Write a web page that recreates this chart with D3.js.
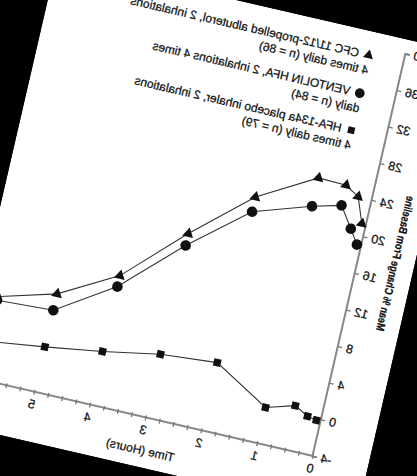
<!DOCTYPE html>
<html>
<head>
<meta charset="utf-8">
<script src="https://cdn.jsdelivr.net/npm/d3@7"></script>
<style>
  html, body { margin: 0; padding: 0; background: #000; }
  svg { display: block; }
  text { font-family: "Liberation Sans", Arial, sans-serif; fill: #111; stroke: #111; stroke-width: 0.25px; }
</style>
</head>
<body>
<div id="chart"></div>
<script>
// time points (hours) and mean % change from baseline
var times    = [0.083, 0.25, 0.5, 1, 2, 3, 4, 5, 6];
var cfc      = [21.3, 24.0, 24.9, 25.0, 21.5, 16.1, 10.1, 6.7, 5.0];
var ventolin = [19.0, 20.5, 22.7, 21.9, 19.9, 14.8, 8.9, 4.9, 4.6];
var placebo  = [-0.2, 0.0, 0.8, -0.1, 3.4, 2.9, 1.8, 0.9, 0.1];

var xTicks = [0, 1, 2, 3, 4, 5, 6];
var yTicks = [-4, 0, 4, 8, 12, 16, 20, 24, 28, 32, 36, 40];

var legendRows = [
  { sym: "triangle", lines: ["CFC 11/12-propelled albuterol, 2 inhalations", "4 times daily (n = 86)"] },
  { sym: "circle",   lines: ["VENTOLIN HFA, 2 inhalations 4 times", "daily (n = 84)"] },
  { sym: "square",   lines: ["HFA-134a placebo inhaler, 2 inhalations", "4 times daily (n = 79)"] }
];

var svgWidth = 417, svgHeight = 476;
var width = 343, height = 413;

var svg = d3.select("#chart").append("svg")
    .attr("width", svgWidth)
    .attr("height", svgHeight);

// the scanned page is mirrored and tilted
var page = svg.append("g")
    .attr("transform", "translate(313,456) rotate(13) scale(-1,1)");

page.append("clipPath").attr("id", "paper")
  .append("rect")
    .attr("x", -56).attr("y", -427)
    .attr("width", 417).attr("height", 477);

var g = page.append("g").attr("clip-path", "url(#paper)");

g.append("rect")
    .attr("x", -56).attr("y", -427)
    .attr("width", 417).attr("height", 477)
    .attr("fill", "#fff");

var x = d3.scaleLinear().domain([0, 6]).range([0, width]);
var y = d3.scaleLinear().domain([-4, 40]).range([0, -height]);

// x axis, minor ticks every 15 min
var minor = d3.range(0, 6.01, 0.25);
g.append("line")
    .attr("x1", 0).attr("x2", x(6))
    .attr("y1", 0).attr("y2", 0)
    .attr("stroke", "#888").attr("stroke-width", 2);
g.selectAll(".mtick").data(minor).enter().append("line")
    .attr("x1", function (d) { return x(d); })
    .attr("x2", function (d) { return x(d); })
    .attr("y1", -2).attr("y2", 3)
    .attr("stroke", "#777").attr("stroke-width", 1.3);
g.selectAll(".xlab").data(xTicks).enter().append("text")
    .attr("x", function (d) { return x(d); })
    .attr("y", 17)
    .attr("text-anchor", "middle")
    .attr("font-size", 12.5)
    .text(function (d) { return d; });
g.append("text")
    .attr("x", x(2.97)).attr("y", 37)
    .attr("text-anchor", "middle")
    .attr("font-size", 12)
    .text("Time (Hours)");

// y axis
var yAxis = g.append("g")
    .call(d3.axisLeft(y).tickValues(yTicks).tickSize(4).tickPadding(4)
      .tickFormat(function (d) { return String(d); }));
yAxis.select(".domain").attr("stroke", "#888").attr("stroke-width", 2);
yAxis.selectAll(".tick line").attr("stroke", "#777").attr("stroke-width", 1.3);
yAxis.selectAll(".tick text")
    .attr("font-size", 12.5)
    .attr("font-family", "Liberation Sans, Arial, sans-serif")
    .attr("fill", "#111");

g.append("text")
    .attr("transform", "translate(-33," + y(10.6) + ") rotate(-90)")
    .attr("font-size", 11.5)
    .attr("font-weight", "bold")
    .attr("textLength", 138)
    .attr("lengthAdjust", "spacingAndGlyphs")
    .text("Mean % Change From Baseline");

// series
var series = [
  { vals: cfc, sym: "triangle" },
  { vals: ventolin, sym: "circle" },
  { vals: placebo, sym: "square" }
];
var symbols = { triangle: d3.symbolTriangle, circle: d3.symbolCircle, square: d3.symbolSquare };
var sizes = { triangle: 52, circle: 88, square: 55 };

var line = d3.line()
    .x(function (d) { return x(d[0]); })
    .y(function (d) { return y(d[1]); });

series.forEach(function (s) {
  var pts = times.map(function (t, i) { return [t, s.vals[i]]; });
  g.append("path")
      .attr("d", line(pts))
      .attr("fill", "none")
      .attr("stroke", "#333")
      .attr("stroke-width", 1.1);
  g.selectAll(null).data(pts).enter().append("path")
      .attr("transform", function (d) { return "translate(" + x(d[0]) + "," + y(d[1]) + ")"; })
      .attr("d", d3.symbol().type(symbols[s.sym]).size(sizes[s.sym]))
      .attr("fill", "#111");
});

// legend
var legY = [-403, -364, -326];
legendRows.forEach(function (r, i) {
  g.append("path")
      .attr("transform", "translate(36," + legY[i] + ")")
      .attr("d", d3.symbol().type(symbols[r.sym]).size(sizes[r.sym] * 0.85))
      .attr("fill", "#111");
  g.append("text")
      .attr("x", 46).attr("y", legY[i] + 4)
      .attr("font-size", 12)
      .text(r.lines[0]);
  g.append("text")
      .attr("x", 33).attr("y", legY[i] + 19)
      .attr("font-size", 12)
      .text(r.lines[1]);
});
</script>
</body>
</html>
